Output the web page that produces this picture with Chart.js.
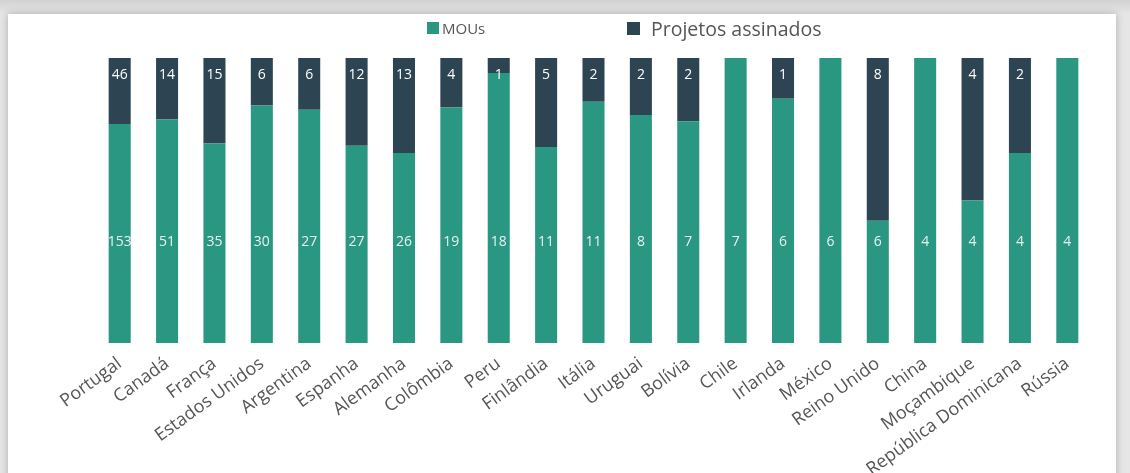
<!DOCTYPE html>
<html>
<head>
<meta charset="utf-8">
<script src="https://cdn.jsdelivr.net/npm/chart.js@4"></script>
<style>
  html, body { margin: 0; padding: 0; }
  body { width: 1130px; height: 473px; overflow: hidden; background: linear-gradient(#d2d2d2, #e6e6e6 14px); position: relative; font-family: 'Open Sans', sans-serif; }
  .card { position: absolute; left: 8px; top: 14px; width: 1108px; height: 480px; background: #fff; box-shadow: 0 0 8px rgba(0,0,0,0.25); }
  #wrap { position: absolute; left: 0; top: 0; width: 1130px; height: 473px; }
  .legend { position: absolute; top: 16px; left: 0; width: 1130px; height: 30px; color: #555; }
  .legend span { position: absolute; display: flex; align-items: center; white-space: nowrap; }
  .box { display: inline-block; }
</style>
</head>
<body>
<div class="card"></div>
<div id="wrap"><canvas id="chart" width="1130" height="473"></canvas></div>
<div class="legend">
  <span style="left:427px; top:2px; font-size:15px;"><i class="box" style="width:12px;height:12px;background:#2a9782;margin-right:3px;"></i>MOUs</span>
  <span style="left:627px; top:-1px; font-size:19.5px;"><i class="box" style="width:13px;height:13px;background:#2d4452;margin-right:11px;"></i>Projetos assinados</span>
</div>
<script>
const countries = ['Portugal', 'Canadá', 'França', 'Estados Unidos', 'Argentina', 'Espanha', 'Alemanha', 'Colômbia', 'Peru', 'Finlândia', 'Itália', 'Uruguai', 'Bolívia', 'Chile', 'Irlanda', 'México', 'Reino Unido', 'China', 'Moçambique', 'República Dominicana', 'Rússia']
const mous = [153, 51, 35, 30, 27, 27, 26, 19, 18, 11, 11, 8, 7, 7, 6, 6, 6, 4, 4, 4, 4]
const projetos = [46, 14, 15, 6, 6, 12, 13, 4, 1, 5, 2, 2, 2, 0, 1, 0, 8, 0, 4, 2, 0]

const green = '#2a9782'
const dark = '#2d4452'

// share of each bar (100% stacked)
const totals = mous.map((m, i) => m + projetos[i])
const mouShare = mous.map((m, i) => m / totals[i] * 100)
const projShare = projetos.map((p, i) => p / totals[i] * 100)

const rawValues = [mous, projetos]

const valueLabels = {
    id: 'valueLabels',
    afterDatasetsDraw(chart) {
        const ctx = chart.ctx
        const yScale = chart.scales.y
        ctx.save()
        ctx.font = '14px "Open Sans"'
        ctx.textAlign = 'center'
        ctx.textBaseline = 'middle'
        chart.data.datasets.forEach((ds, di) => {
            const meta = chart.getDatasetMeta(di)
            meta.data.forEach((bar, i) => {
                const v = rawValues[di][i]
                if (!v) return
                let y
                if (di === 0) {
                    ctx.fillStyle = '#e6f3ef'
                    y = yScale.getPixelForValue(35.5)
                } else {
                    ctx.fillStyle = '#ffffff'
                    y = bar.y + 17
                }
                ctx.fillText(String(v), bar.x, y)
            })
        })
        ctx.restore()
    }
}

new Chart(document.getElementById('chart'), {
    type: 'bar',
    data: {
        labels: countries,
        datasets: [
            { label: 'MOUs', data: mouShare, backgroundColor: green, barPercentage: 0.93, categoryPercentage: 0.5 },
            { label: 'Projetos assinados', data: projShare, backgroundColor: dark, barPercentage: 0.93, categoryPercentage: 0.5 }
        ]
    },
    options: {
        responsive: false,
        animation: false,
        layout: { padding: { left: 96, right: 39, top: 58, bottom: 0 } },
        plugins: { legend: { display: false }, tooltip: { enabled: false } },
        scales: {
            x: {
                stacked: true,
                grid: { display: false },
                border: { display: false },
                ticks: {
                    color: '#555',
                    font: { family: 'Open Sans', size: 18 },
                    minRotation: 36,
                    maxRotation: 36,
                    autoSkip: false,
                    padding: 2
                },
                afterFit(scale) {
                    scale.height = 130
                    scale.paddingLeft = 0
                    scale.paddingRight = 0
                }
            },
            y: { stacked: true, display: false, min: 0, max: 100 }
        }
    },
    plugins: [valueLabels]
})
</script>
</body>
</html>
